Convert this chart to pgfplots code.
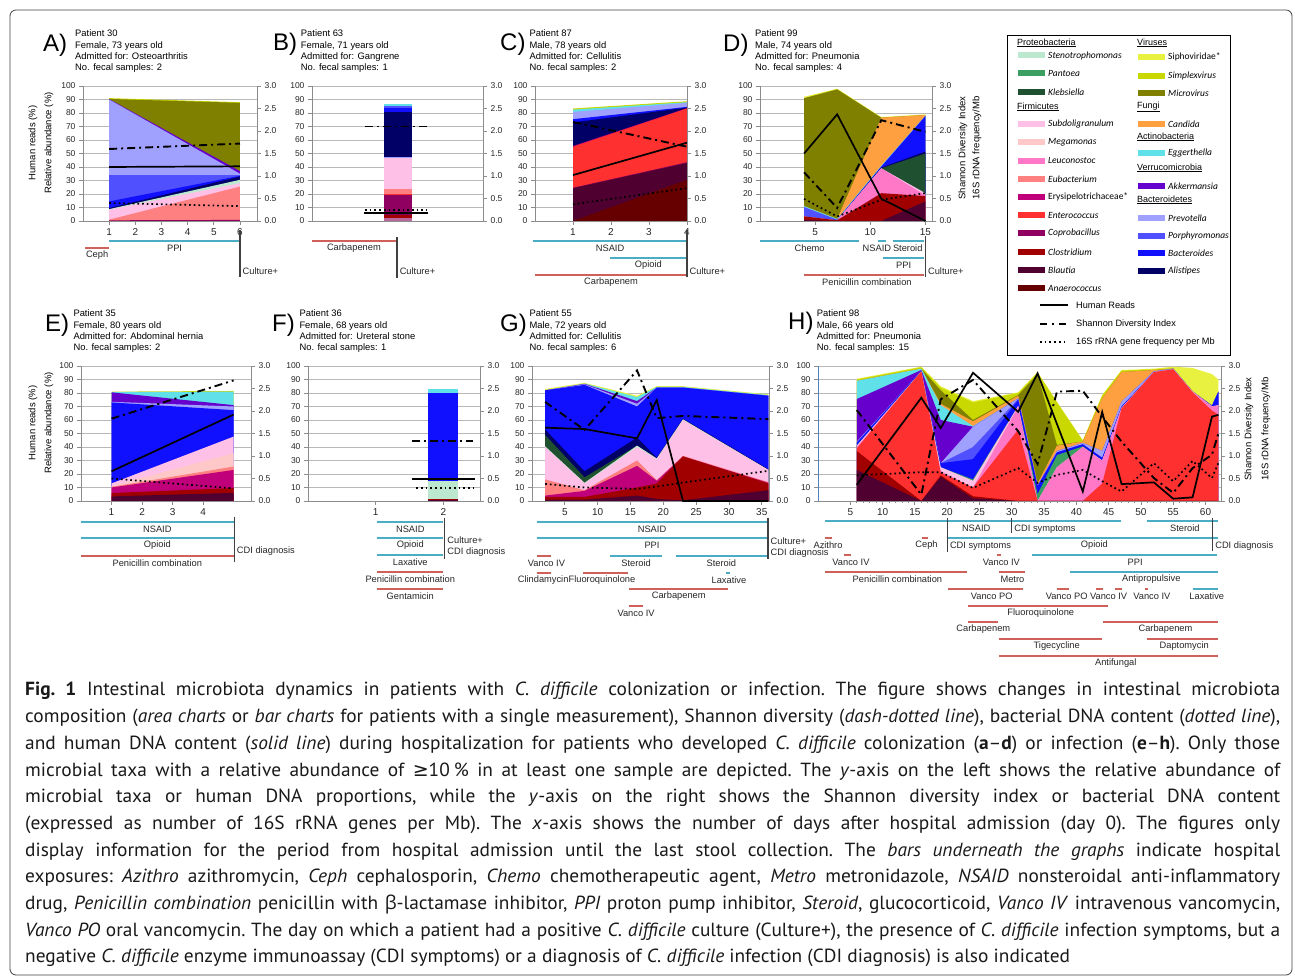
\documentclass[border=0pt]{standalone}
\usepackage{fontspec}
\setmainfont{Liberation Sans}
\newfontfamily\capfont[FakeStretch=1.02]{PT Sans}
\newfontfamily\legfont{Carlito}
\newfontfamily\symfont{DejaVu Sans}
\newfontfamily\greekf{Open Sans}
\usepackage{pgfplots}
\usepackage{pgfplotstable}
\pgfplotsset{compat=1.18}

\definecolor{steno}{HTML}{BDE8D0}
\definecolor{pantoea}{HTML}{3A9F60}
\definecolor{klebs}{HTML}{1F5030}
\definecolor{subdol}{HTML}{FFC0E8}
\definecolor{megam}{HTML}{FFC8C8}
\definecolor{leucon}{HTML}{FF78C8}
\definecolor{eubac}{HTML}{FF8080}
\definecolor{erysip}{HTML}{C0007A}
\definecolor{entero}{HTML}{FF3030}
\definecolor{coprob}{HTML}{900060}
\definecolor{clostr}{HTML}{A00000}
\definecolor{blautia}{HTML}{500030}
\definecolor{anaero}{HTML}{660000}
\definecolor{siphov}{HTML}{E8F040}
\definecolor{simplex}{HTML}{C8D800}
\definecolor{microv}{HTML}{808000}
\definecolor{candida}{HTML}{FFA040}
\definecolor{egger}{HTML}{60E0E8}
\definecolor{akker}{HTML}{6600CC}
\definecolor{prevot}{HTML}{A0A0FF}
\definecolor{porphy}{HTML}{5050FF}
\definecolor{bacter}{HTML}{1010FF}
\definecolor{alist}{HTML}{000066}
\definecolor{expblue}{HTML}{4BACC6}
\definecolor{expred}{HTML}{D0605A}
\definecolor{axblue}{HTML}{4F81BD}

\newcommand\elab{\fontsize{9.3}{10}\selectfont}
\newcommand\ptf{\fontsize{9.4}{10}\selectfont}

\pgfplotsset{
 /pgf/number format/assume math mode=true,
 hum/.style={draw=black, line width=1.7pt},
 sha/.style={draw=black, line width=1.9pt, dash pattern=on 8pt off 4pt on 2pt off 4pt},
 dts/.style={draw=black, line width=1.7pt, dash pattern=on 1.7pt off 3pt},
 evst/.style={draw=black!75, line width=1.3pt},
 lay/.style={fill=#1, draw=none},
 mainax/.style={anchor=south west, scale only axis, height=135pt, ymin=0, ymax=100,
   ytick={0,10,...,100}, axis x line*=bottom, axis y line*=left, ymajorgrids,
   grid style={draw=black!28, line width=0.9pt},
   axis line style={draw=black!45, line width=0.9pt, -},
   tick style={draw=black!45, line width=0.8pt}, tick align=outside, major tick length=4pt,
   yticklabel style={font=\fontsize{8.5}{9}\selectfont, text=black!85},
   xticklabel style={font=\fontsize{10}{11}\selectfont, text=black!85}, clip=false},
 rightax/.style={anchor=south west, scale only axis, height=135pt, ymin=0, ymax=3,
   ytick={0,0.5,...,3}, axis y line*=right, axis x line=none,
   axis line style={draw=black!45, line width=0.9pt, -},
   tick style={draw=black!45, line width=0.8pt}, tick align=outside, major tick length=4pt,
   yticklabel style={font=\fontsize{8.5}{9}\selectfont, text=black!85,
     /pgf/number format/fixed, /pgf/number format/fixed zerofill, /pgf/number format/precision=1},
   clip=false},
 expax/.style={anchor=south west, scale only axis, hide axis, clip=false},
}

\newcommand\ebl[6]{\addplot[draw=#1, line width=2.8pt] coordinates {(#2,-#4) (#3,-#4)};
  \node[font=\elab, inner sep=0pt, text=black!85] at (axis cs:{#6},{-#4-7}) {#5};}
\newcommand\eb[5]{\ebl{#1}{#2}{#3}{#4}{#5}{(#2+#3)/2}}
\newcommand\ev[3]{\addplot[evst] coordinates {(#1,-#2) (#1,-#3)};}
\newcommand\evl[3]{\node[anchor=west, font=\elab, inner sep=0pt, xshift=2.5pt, text=black!85] at (axis cs:#1,-#2) {#3};}

\newcommand\ptext[6]{%
  \node[anchor=base west, inner sep=0pt, font=\ptf] at (#1,{979-#2}) {#3};
  \node[anchor=base west, inner sep=0pt, font=\ptf] at (#1,{979-#2-11.33}) {#4};
  \node[anchor=base west, inner sep=0pt, font=\ptf] at (#1,{979-#2-22.67}) {#5};
  \node[anchor=base west, inner sep=0pt, font=\ptf] at (#1,{979-#2-34}) {#6};}
\newcommand\plet[3]{\node[anchor=base west, inner sep=0pt, font=\fontsize{24}{24}\selectfont] at (#1,{979-#2}) {#3};}

\newcommand\lhead[3]{\node[anchor=west, inner sep=0pt, font=\fontsize{9}{10}\selectfont] at (#1,{979-#2}) {\underline{#3}};}
\newcommand\lsw[4]{\fill[#3] (#1,{979-#2-3}) rectangle ++(27,6);
  \node[anchor=west, inner sep=0pt, font=\legfont\fontsize{9.5}{10}\selectfont] at ({#1+30},{979-#2}) {#4};}

\pgfplotstableread{
x blautia clostr erysip eubac subdol steno klebs alist bacter prevot akker egger siphov
2  1   3  4    16   40 40.5 49   53   82 82   82   82   83
8  1   3  7.5  8    13 13.5 17.5 22   86 86.5 86.8 87   87.5
16 4   10 26   30   40 41   41   47   70 72   74   77   78
19 1.5 13 15   15.5 31 31.5 31.5 32   84 84   84   84.5 85
23 0.5 33 33   33.5 60 60.5 60.5 61   84 84   84   84.5 85
36 8   13 13.5 14   23 23   23   23.5 78 78   78   78.5 79
}\Gdata

\pgfplotstableread{
x blautia clostr entero leucon subdol pantoea bacter porphy prevot akker egger candida microv simplex siphov
6  23 37  39   40   41   41   43   43.5 44   75.5 89   89   89   90   90.5
16 0  0   96   96   96   96   96.5 96.5 96.5 97   98   98   98   99   99.5
19 18 19  21   22   25   25   28   28   28   60   71   72   82   84   85
24 2  3.5 10   10   15   16   31   40   55   55   55.5 59   60   73   74
31 0  0   53   70   70.5 70.5 75   75.5 76   76   76   78   78.5 80   80.5
34 0  0   0    0    0    5    11   11   11.5 11.5 11.5 13   94   95   95.5
37 0  0   0    25   25   34   36   36   37   37   37   41   41.5 73   73.5
41 0  0   0    40   40   40.5 42   42   43   43   43   44   44   44.5 45
44 0  0   13   30   30   30   32   32   37   37   37   76   76   78   78.5
47 0  0   68.5 69   69   69   70   70   73.5 73.5 73.5 95.5 95.5 96.5 97
52 0  0   95.5 95.5 95.5 95.5 95.5 95.5 96   96   96   97   97   97.5 98
55 0  0   97.5 97.5 97.5 97.5 97.5 97.5 98   98   98   98   98   98.5 99.5
58 0  0   80.5 81   81   81   81   81   81   81   81   81   81   81.5 98.5
61 0  0   67   70   70   70   70.5 70.5 70.5 70.5 70.5 70.5 70.5 71   94
62 0  0   64   71   71   71   81   81   81   81   81   81   81   81.5 90
}\Hdata

\begin{document}
\begin{tikzpicture}[x=1pt,y=1pt]
\useasboundingbox (0,0) rectangle (1295,979);
\draw[black!75, line width=0.8pt, rounded corners=6pt] (10,4) rectangle (1292,969);

% ---------------- Panel letters and patient info
\plet{43}{51.7}{A)} \plet{273}{50.7}{B)} \plet{500}{50.7}{C)} \plet{723}{51.7}{D)}
\plet{45}{331.7}{E)} \plet{272}{331.7}{F)} \plet{500}{331.7}{G)} \plet{788}{330}{H)}
\ptext{75}{36.7}{Patient 30}{Female, 73 years old}{Admitted for: Osteoarthritis}{No. fecal samples: 2}
\ptext{300.7}{36.7}{Patient 63}{Female, 71 years old}{Admitted for: Gangrene}{No. fecal samples: 1}
\ptext{529.3}{36.7}{Patient 87}{Male, 78 years old}{Admitted for: Cellulitis}{No. fecal samples: 2}
\ptext{755}{36.7}{Patient 99}{Male, 74 years old}{Admitted for: Pneumonia}{No. fecal samples: 4}
\ptext{73.3}{316.7}{Patient 35}{Female, 80 years old}{Admitted for: Abdominal hernia}{No. fecal samples: 2}
\ptext{299.3}{316.7}{Patient 36}{Female, 68 years old}{Admitted for: Ureteral stone}{No. fecal samples: 1}
\ptext{529.3}{316.7}{Patient 55}{Male, 72 years old}{Admitted for: Cellulitis}{No. fecal samples: 6}
\ptext{816.7}{316.7}{Patient 98}{Male, 66 years old}{Admitted for: Pneumonia}{No. fecal samples: 15}

% axis titles
\node[rotate=90, font=\fontsize{9.5}{10}\selectfont] at (33,836) {Human reads (\%)};
\node[rotate=90, font=\fontsize{9.5}{10}\selectfont] at (49,836) {Relative abundance (\%)};
\node[rotate=90, font=\fontsize{9.5}{10}\selectfont] at (33,556) {Human reads (\%)};
\node[rotate=90, font=\fontsize{9.5}{10}\selectfont] at (49,556) {Relative abundance (\%)};
\node[rotate=90, font=\fontsize{9.5}{10}\selectfont] at (963,831) {Shannon Diversity Index};
\node[rotate=90, font=\fontsize{9.5}{10}\selectfont] at (977,831) {16S rDNA frequency/Mb};
\node[rotate=90, font=\fontsize{9.5}{10}\selectfont] at (1249,550) {Shannon Diversity Index};
\node[rotate=90, font=\fontsize{9.5}{10}\selectfont] at (1266,550) {16S rDNA frequency/Mb};

% ================= Panel A
\begin{axis}[mainax, at={(83pt,758pt)}, width=174pt, xmin=0, xmax=6.65, xtick={1,...,6}]
\addplot[lay=simplex] coordinates {(1,91) (6,88)} \closedcycle;
\addplot[lay=microv] coordinates {(1,90.4) (6,87.5)} \closedcycle;
\addplot[lay=akker] coordinates {(1,90.3) (6,37)} \closedcycle;
\addplot[lay=prevot] coordinates {(1,90) (6,35)} \closedcycle;
\addplot[lay=porphy] coordinates {(1,34.2) (6,34.2)} \closedcycle;
\addplot[lay=bacter] coordinates {(1,14.5) (6,33.5)} \closedcycle;
\addplot[lay=alist] coordinates {(1,9.6) (6,33)} \closedcycle;
\addplot[lay=steno] coordinates {(1,8.8) (6,30.5)} \closedcycle;
\addplot[lay=subdol] coordinates {(1,8.4) (6,28)} \closedcycle;
\addplot[lay=eubac] coordinates {(1,1) (6,25.5)} \closedcycle;
\addplot[lay=coprob] coordinates {(1,0.5) (6,0.8)} \closedcycle;
\addplot[hum] coordinates {(1,40) (6,40.5)};
\end{axis}
\begin{axis}[rightax, at={(83pt,758pt)}, width=174pt, xmin=0, xmax=6.65]
\addplot[sha] coordinates {(1,1.6) (6,1.72)};
\addplot[dts] coordinates {(1,0.4) (6,0.33)};
\end{axis}
\begin{axis}[expax, at={(83pt,679pt)}, width=174pt, height=79pt, xmin=0, xmax=6.65, ymin=-300, ymax=-221]
\eb{expred}{0.08}{1}{248}{Ceph}
\eb{expblue}{1}{6}{241}{PPI}
\ev{6}{230}{277} \evl{6}{271}{Culture+}
\end{axis}

% ================= Panel B
\begin{axis}[mainax, at={(312pt,758pt)}, width=171pt, xmin=0, xmax=2, xtick=\empty]
\addplot[ybar, bar width=28pt, bar shift=0pt, lay=egger] coordinates {(1,87)};
\addplot[ybar, bar width=28pt, bar shift=0pt, lay=porphy] coordinates {(1,85)};
\addplot[ybar, bar width=28pt, bar shift=0pt, lay=bacter] coordinates {(1,84)};
\addplot[ybar, bar width=28pt, bar shift=0pt, lay=alist] coordinates {(1,80.8)};
\addplot[ybar, bar width=28pt, bar shift=0pt, lay=prevot] coordinates {(1,47.2)};
\addplot[ybar, bar width=28pt, bar shift=0pt, lay=subdol] coordinates {(1,46.4)};
\addplot[ybar, bar width=28pt, bar shift=0pt, lay=eubac] coordinates {(1,23.8)};
\addplot[ybar, bar width=28pt, bar shift=0pt, lay=entero] coordinates {(1,20)};
\addplot[ybar, bar width=28pt, bar shift=0pt, lay=coprob] coordinates {(1,19)};
\addplot[ybar, bar width=28pt, bar shift=0pt, lay=clostr] coordinates {(1,4.7)};
\addplot[ybar, bar width=28pt, bar shift=0pt, lay=coprob!60] coordinates {(1,2.2)};
\addplot[hum] coordinates {(0.61,5.9) (1.36,5.9)};
\end{axis}
\begin{axis}[rightax, at={(312pt,758pt)}, width=171pt, xmin=0, xmax=2]
\addplot[sha] coordinates {(0.62,2.1) (1.35,2.1)};
\addplot[dts] coordinates {(0.62,0.24) (1.35,0.24)};
\end{axis}
\begin{axis}[expax, at={(312pt,679pt)}, width=171pt, height=79pt, xmin=0, xmax=2, ymin=-300, ymax=-221]
\eb{expred}{0}{0.98}{241}{Carbapenem}
\ev{0.995}{237}{278} \evl{0.995}{271}{Culture+}
\end{axis}

% ================= Panel C
\begin{axis}[mainax, at={(535pt,758pt)}, width=152pt, xmin=0, xmax=4, xtick={1,...,4}]
\addplot[lay=simplex] coordinates {(1,83.3) (4,88.7)} \closedcycle;
\addplot[lay=egger] coordinates {(1,82.5) (4,88)} \closedcycle;
\addplot[lay=prevot] coordinates {(1,80.8) (4,87.5)} \closedcycle;
\addplot[lay=bacter] coordinates {(1,75.4) (4,84.5)} \closedcycle;
\addplot[lay=alist] coordinates {(1,73) (4,84)} \closedcycle;
\addplot[lay=erysip] coordinates {(1,55.5) (4,83.6)} \closedcycle;
\addplot[lay=entero] coordinates {(1,55) (4,83.3)} \closedcycle;
\addplot[lay=coprob] coordinates {(1,24.6) (4,43.5)} \closedcycle;
\addplot[lay=blautia] coordinates {(1,24.3) (4,43)} \closedcycle;
\addplot[lay=anaero] coordinates {(1,0) (4,30.5)} \closedcycle;
\addplot[hum] coordinates {(1,34) (4,58)};
\end{axis}
\begin{axis}[rightax, at={(535pt,758pt)}, width=152pt, xmin=0, xmax=4]
\addplot[sha] coordinates {(1,2.2) (4,1.65)};
\addplot[dts] coordinates {(1,0.37) (4,0.73)};
\end{axis}
\begin{axis}[expax, at={(535pt,679pt)}, width=152pt, height=79pt, xmin=0, xmax=4, ymin=-300, ymax=-221]
\eb{expblue}{-0.05}{4}{241}{NSAID}
\eb{expblue}{1.97}{4}{258}{Opioid}
\eb{expred}{0}{4}{275}{Carbapenem}
\ev{4}{230}{277} \evl{4}{271}{Culture+}
\end{axis}

% ================= Panel D
\begin{axis}[mainax, at={(760pt,758pt)}, width=172pt, xmin=0, xmax=15.6, xtick={5,10,15}]
\addplot[lay=siphov] coordinates {(4,92) (7,98) (11,77) (15,79)} \closedcycle;
\addplot[lay=microv] coordinates {(4,91) (7,97.5) (11,76.5) (15,78.5)} \closedcycle;
\addplot[lay=candida] coordinates {(4,11) (7,1.5) (11,76.5) (15,78.5)} \closedcycle;
\addplot[lay=egger] coordinates {(4,11) (7,1.5) (11,41) (15,78)} \closedcycle;
\addplot[lay=porphy] coordinates {(4,10.3) (7,1) (11,40.5) (15,77.8)} \closedcycle;
\addplot[lay=bacter] coordinates {(4,3.4) (7,0.7) (11,40) (15,77.6)} \closedcycle;
\addplot[lay=alist] coordinates {(4,3.4) (7,0.5) (11,39.5) (15,51.4)} \closedcycle;
\addplot[lay=klebs] coordinates {(4,3.4) (7,0.5) (11,39) (15,50)} \closedcycle;
\addplot[lay=subdol] coordinates {(4,3.4) (7,0.5) (11,39) (15,20.6)} \closedcycle;
\addplot[lay=leucon] coordinates {(4,3.4) (7,0.5) (11,39) (15,19)} \closedcycle;
\addplot[lay=clostr] coordinates {(4,3.4) (7,0.5) (11,20.6) (15,18.5)} \closedcycle;
\addplot[lay=blautia] coordinates {(4,0.8) (7,0) (11,0) (15,14.5)} \closedcycle;
\addplot[hum] coordinates {(4,50) (7,79) (11,16.5) (15,0)};
\end{axis}
\begin{axis}[rightax, at={(760pt,758pt)}, width=172pt, xmin=0, xmax=15.6]
\addplot[sha] coordinates {(4,1.08) (7,0.29) (11,2.24) (15,1.98)};
\addplot[dts] coordinates {(4,0.49) (7,0.1) (11,0.47) (15,0.62)};
\end{axis}
\begin{axis}[expax, at={(760pt,679pt)}, width=172pt, height=79pt, xmin=0, xmax=15.6, ymin=-300, ymax=-221]
\eb{expblue}{0}{9}{241}{Chemo}
\ebl{expblue}{10.7}{11.4}{241}{NSAID}{10.6}
\ebl{expblue}{12.1}{14.9}{241}{Steroid}{13.4}
\eb{expblue}{11.15}{14.9}{258}{PPI}
\ebl{expred}{4}{14.9}{275}{Penicillin combination}{9.7}
\ev{15}{236}{277} \evl{15}{271}{Culture+}
\end{axis}

% ================= Panel E
\begin{axis}[mainax, at={(81pt,478pt)}, width=170pt, xmin=0, xmax=5.57, xtick={1,...,4}]
\addplot[lay=simplex] coordinates {(1,81) (5,81.5)} \closedcycle;
\addplot[lay=egger] coordinates {(1,80.7) (5,81)} \closedcycle;
\addplot[lay=akker] coordinates {(1,80.5) (5,71)} \closedcycle;
\addplot[lay=prevot] coordinates {(1,73.5) (5,70)} \closedcycle;
\addplot[lay=bacter] coordinates {(1,73) (5,67.3)} \closedcycle;
\addplot[lay=subdol] coordinates {(1,13) (5,47.7)} \closedcycle;
\addplot[lay=megam] coordinates {(1,11) (5,35.4)} \closedcycle;
\addplot[lay=eubac] coordinates {(1,10.5) (5,25.5)} \closedcycle;
\addplot[lay=erysip] coordinates {(1,10) (5,23)} \closedcycle;
\addplot[lay=clostr] coordinates {(1,5.9) (5,9.6)} \closedcycle;
\addplot[lay=blautia] coordinates {(1,3.4) (5,6)} \closedcycle;
\addplot[hum] coordinates {(1,22) (5,64)};
\end{axis}
\begin{axis}[rightax, at={(81pt,478pt)}, width=170pt, xmin=0, xmax=5.57]
\addplot[sha] coordinates {(1,1.83) (5,2.68)};
\addplot[dts] coordinates {(1,0.5) (5,0.28)};
\end{axis}
\begin{axis}[expax, at={(81pt,309pt)}, width=170pt, height=169pt, xmin=0, xmax=5.57, ymin=-670, ymax=-501]
\eb{expblue}{0}{5}{522}{NSAID}
\eb{expblue}{0}{5}{538}{Opioid}
\eb{expred}{0}{5}{556}{Penicillin combination}
\ev{5.02}{517}{562} \evl{5.02}{551}{CDI diagnosis}
\end{axis}

% ================= Panel F
\begin{axis}[mainax, at={(308pt,478pt)}, width=172pt, xmin=0, xmax=2.54, xtick={1,2}]
\addplot[ybar, bar width=30pt, bar shift=0pt, lay=egger] coordinates {(2,83.3)};
\addplot[ybar, bar width=30pt, bar shift=0pt, lay=bacter] coordinates {(2,80)};
\addplot[ybar, bar width=30pt, bar shift=0pt, lay=steno] coordinates {(2,14.5)};
\addplot[ybar, bar width=30pt, bar shift=0pt, lay=clostr] coordinates {(2,1.5)};
\addplot[ybar, bar width=30pt, bar shift=0pt, lay=blautia] coordinates {(2,0.8)};
\addplot[hum] coordinates {(1.53,16.2) (2.47,16.2)};
\end{axis}
\begin{axis}[rightax, at={(308pt,478pt)}, width=172pt, xmin=0, xmax=2.54]
\addplot[sha] coordinates {(1.53,1.34) (2.44,1.34)};
\addplot[dts] coordinates {(1.6,0.29) (2.44,0.29)};
\end{axis}
\begin{axis}[expax, at={(308pt,309pt)}, width=172pt, height=169pt, xmin=0, xmax=2.54, ymin=-670, ymax=-501]
\eb{expblue}{1.02}{2}{522}{NSAID}
\eb{expblue}{1.02}{2}{538}{Opioid}
\eb{expblue}{1.02}{2}{555}{Laxative}
\eb{expred}{1.02}{2}{572}{Penicillin combination}
\eb{expred}{1.02}{2}{589}{Gentamicin}
\ev{2.02}{518}{559} \evl{2.02}{540}{Culture+} \evl{2.02}{552}{CDI diagnosis}
\end{axis}

% ================= Panel G
\begin{axis}[mainax, at={(532pt,478pt)}, width=237pt, xmin=0, xmax=36.1, xtick={5,10,...,35}]
\addplot[lay=siphov] table[x=x,y=siphov] {\Gdata} \closedcycle;
\addplot[lay=egger] table[x=x,y=egger] {\Gdata} \closedcycle;
\addplot[lay=akker] table[x=x,y=akker] {\Gdata} \closedcycle;
\addplot[lay=prevot] table[x=x,y=prevot] {\Gdata} \closedcycle;
\addplot[lay=bacter] table[x=x,y=bacter] {\Gdata} \closedcycle;
\addplot[lay=alist] table[x=x,y=alist] {\Gdata} \closedcycle;
\addplot[lay=klebs] table[x=x,y=klebs] {\Gdata} \closedcycle;
\addplot[lay=steno] table[x=x,y=steno] {\Gdata} \closedcycle;
\addplot[lay=subdol] table[x=x,y=subdol] {\Gdata} \closedcycle;
\addplot[lay=eubac] table[x=x,y=eubac] {\Gdata} \closedcycle;
\addplot[lay=erysip] table[x=x,y=erysip] {\Gdata} \closedcycle;
\addplot[lay=clostr] table[x=x,y=clostr] {\Gdata} \closedcycle;
\addplot[lay=blautia] table[x=x,y=blautia] {\Gdata} \closedcycle;
\addplot[hum] coordinates {(2,54.3) (8,53.3) (16,46.4) (19,74.7) (23,0) (36,0)};
\end{axis}
\begin{axis}[rightax, at={(532pt,478pt)}, width=237pt, xmin=0, xmax=36.1]
\addplot[sha] coordinates {(2,2.2) (8,1.58) (16,2.9) (19,1.84) (23,1.89) (36,1.82)};
\addplot[dts] coordinates {(2,0.38) (8,0.3) (16,0.27) (19,0.32) (23,0.41) (36,0.67)};
\end{axis}
\begin{axis}[expax, at={(532pt,309pt)}, width=237pt, height=169pt, xmin=0, xmax=36.1, ymin=-670, ymax=-501]
\eb{expblue}{0.76}{35.8}{522}{NSAID}
\eb{expblue}{0.76}{35.8}{538}{PPI}
\ebl{expred}{0.76}{2.9}{556}{Vanco IV}{2.2}
\eb{expblue}{11.9}{19.8}{556}{Steroid}
\eb{expblue}{21.9}{35.8}{556}{Steroid}
\ebl{expred}{0.76}{2.9}{573}{Clindamycin}{1.7}
\ebl{expred}{7.8}{14.6}{573}{Fluoroquinolone}{10.66}
\ebl{expblue}{29.5}{30.2}{573}{Laxative}{30}
\eb{expred}{14.8}{29.9}{589}{Carbapenem}
\eb{expred}{14.8}{16.9}{606}{Vanco IV}
\ev{35.95}{518}{559} \evl{35.95}{540.7}{Culture+} \evl{35.95}{553}{CDI diagnosis}
\end{axis}

% ================= Panel H
\begin{axis}[mainax, at={(818pt,478pt)}, width=403pt, xmin=0, xmax=62.4, xtick={5,10,...,60},
  minor x tick num=4, minor tick length=2pt, y axis line style={draw=axblue}]
\addplot[lay=siphov] table[x=x,y=siphov] {\Hdata} \closedcycle;
\addplot[lay=simplex] table[x=x,y=simplex] {\Hdata} \closedcycle;
\addplot[lay=microv] table[x=x,y=microv] {\Hdata} \closedcycle;
\addplot[lay=candida] table[x=x,y=candida] {\Hdata} \closedcycle;
\addplot[lay=egger] table[x=x,y=egger] {\Hdata} \closedcycle;
\addplot[lay=akker] table[x=x,y=akker] {\Hdata} \closedcycle;
\addplot[lay=prevot] table[x=x,y=prevot] {\Hdata} \closedcycle;
\addplot[lay=porphy] table[x=x,y=porphy] {\Hdata} \closedcycle;
\addplot[lay=bacter] table[x=x,y=bacter] {\Hdata} \closedcycle;
\addplot[lay=pantoea] table[x=x,y=pantoea] {\Hdata} \closedcycle;
\addplot[lay=subdol] table[x=x,y=subdol] {\Hdata} \closedcycle;
\addplot[lay=leucon] table[x=x,y=leucon] {\Hdata} \closedcycle;
\addplot[lay=entero] table[x=x,y=entero] {\Hdata} \closedcycle;
\addplot[lay=clostr] table[x=x,y=clostr] {\Hdata} \closedcycle;
\addplot[lay=blautia] table[x=x,y=blautia] {\Hdata} \closedcycle;
\addplot[hum] coordinates {(6,12) (16,76.5) (19,54) (24,95) (31,66) (34,94.5) (41,7) (44,66) (47,12.5) (52,13.8) (55,1.7) (58,2.7) (61,62.5) (62,63.8)};
\end{axis}
\begin{axis}[rightax, at={(818pt,478pt)}, width=403pt, xmin=0, xmax=62.4]
\addplot[sha] coordinates {(6,2.02) (16,0.14) (19,2.26) (24,2.69) (31,1.55) (34,0.82) (37,2.43) (41,2.45) (44,1.87) (47,1.32) (52,0.51) (55,0.18) (58,0.73) (61,1.03) (62,1.5)};
\addplot[dts] coordinates {(6,0.57) (16,0.64) (19,0.64) (24,0.29) (31,0.73) (34,0.4) (37,0.58) (41,0.69) (44,0.44) (47,0.21) (52,0.84) (55,0.44) (58,0.89) (61,0.51) (62,0.85)};
\end{axis}
\begin{axis}[expax, at={(818pt,309pt)}, width=403pt, height=169pt, xmin=0, xmax=62.4, ymin=-670, ymax=-501]
\ebl{expblue}{1.08}{46.87}{521}{NSAID}{24.5}
\ebl{expblue}{50.9}{62}{521}{Steroid}{56.8}
\ebl{expblue}{19.93}{62}{538}{Opioid}{42.8}
\ebl{expred}{1.08}{2.12}{538}{Azithro}{1.55}
\ebl{expred}{16.06}{17.08}{538}{Ceph}{16.8}
\ebl{expred}{4.03}{5.06}{555}{Vanco IV}{5.1}
\ebl{expred}{27.67}{28.29}{555}{Vanco IV}{28.4}
\ebl{expblue}{33.18}{61.83}{555}{PPI}{49.1}
\ebl{expred}{1.08}{23.03}{572}{Penicillin combination}{12.3}
\ebl{expred}{28.03}{32.05}{572}{Metro}{30.1}
\ebl{expblue}{39.02}{62}{572}{Antipropulsive}{51.6}
\ebl{expred}{20.18}{31.79}{589}{Vanco PO}{26.9}
\ebl{expred}{36.96}{38.91}{589}{Vanco PO}{38.5}
\ebl{expred}{43.05}{44.08}{589}{}{44}
\ebl{expred}{45.99}{47.03}{589}{Vanco IV}{45}
\ebl{expred}{50.6}{51.1}{589}{Vanco IV}{51.7}
\ebl{expblue}{58}{62}{589}{Laxative}{60.2}
\ebl{expred}{23.18}{44.95}{606}{Fluoroquinolone}{34.5}
\ebl{expred}{23.18}{27.92}{622}{Carbapenem}{25.6}
\ebl{expred}{44.08}{62}{622}{Carbapenem}{53.8}
\ebl{expred}{28.07}{43.93}{639}{Tigecycline}{36.96}
\ebl{expred}{50.9}{62}{639}{Daptomycin}{56.7}
\ebl{expred}{28.07}{62}{656}{Antifungal}{46.1}
\ev{20.02}{518}{552} \evl{20.02}{546}{CDI symptoms}
\ev{30}{518}{533} \evl{30}{529}{CDI symptoms}
\ev{61.1}{518}{551} \evl{61.1}{546}{CDI diagnosis}
\end{axis}

% ================= Legend
\draw[black, line width=0.8pt] (1007,944) rectangle (1230,624);
\lhead{1017}{43}{Proteobacteria}
\lsw{1018}{55.5}{steno}{\itshape Stenotrophomonas}
\lsw{1018}{73.5}{pantoea}{\itshape Pantoea}
\lsw{1018}{92}{klebs}{\itshape Klebsiella}
\lhead{1017}{107}{Firmicutes}
\lsw{1018}{124}{subdol}{\itshape Subdoligranulum}
\lsw{1018}{142}{megam}{\itshape Megamonas}
\lsw{1018}{161}{leucon}{\itshape Leuconostoc}
\lsw{1018}{179}{eubac}{\itshape Eubacterium}
\lsw{1018}{197}{erysip}{Erysipelotrichaceae*}
\lsw{1018}{215}{entero}{\itshape Enterococcus}
\lsw{1018}{233}{coprob}{\itshape Coprobacillus}
\lsw{1018}{252}{clostr}{\itshape Clostridium}
\lsw{1018}{270}{blautia}{\itshape Blautia}
\lsw{1018}{288}{anaero}{\itshape Anaerococcus}
\lhead{1137}{43}{Viruses}
\lsw{1138}{57}{siphov}{Siphoviridae*}
\lsw{1138}{76}{simplex}{\itshape Simplexvirus}
\lsw{1138}{93}{microv}{\itshape Microvirus}
\lhead{1137}{107}{Fungi}
\lsw{1138}{124}{candida}{\itshape Candida}
\lhead{1137}{137}{Actinobacteria}
\lsw{1138}{153}{egger}{\itshape Eggerthella}
\lhead{1137}{168}{Verrucomicrobia}
\lsw{1138}{186}{akker}{\itshape Akkermansia}
\lhead{1137}{200}{Bacteroidetes}
\lsw{1138}{218}{prevot}{\itshape Prevotella}
\lsw{1138}{236}{porphy}{\itshape Porphyromonas}
\lsw{1138}{253}{bacter}{\itshape Bacteroides}
\lsw{1138}{271}{alist}{\itshape Alistipes}
\draw[black, line width=1.7pt] (1040,674) -- (1068,674);
\draw[black, line width=1.9pt, dash pattern=on 7pt off 5pt on 2pt off 5pt] (1040,655) -- (1070,655);
\draw[black, line width=1.7pt, dash pattern=on 1.7pt off 3pt] (1040,637) -- (1068,637);
\node[anchor=west, inner sep=0pt, font=\fontsize{9.2}{10}\selectfont] at (1076,674) {Human Reads};
\node[anchor=west, inner sep=0pt, font=\fontsize{9.2}{10}\selectfont] at (1076,655) {Shannon Diversity Index};
\node[anchor=west, inner sep=0pt, font=\fontsize{9.2}{10}\selectfont] at (1076,637) {16S rRNA gene frequency per Mb};

% ================= Caption
\node[anchor=base west, inner sep=0pt, text=black!90] at (25,283) {\parbox[t]{1255pt}{\capfont\frenchspacing\fontsize{19}{26.7}\selectfont
\makebox[1255pt][s]{\textbf{Fig. 1} Intestinal microbiota dynamics in patients with \textit{C. difficile} colonization or infection. The figure shows changes in intestinal microbiota}\\
\makebox[1255pt][s]{composition (\textit{area charts} or \textit{bar charts} for patients with a single measurement), Shannon diversity (\textit{dash-dotted line}), bacterial DNA content (\textit{dotted line}),}\\
\makebox[1255pt][s]{and human DNA content (\textit{solid line}) during hospitalization for patients who developed \textit{C. difficile} colonization (\textbf{a}–\textbf{d}) or infection (\textbf{e}–\textbf{h}). Only those}\\
\makebox[1255pt][s]{microbial taxa with a relative abundance of {\symfont ≥}10\hspace{4pt}\% in at least one sample are depicted. The \textit{y}-axis on the left shows the relative abundance of}\\
\makebox[1255pt][s]{microbial taxa or human DNA proportions, while the \textit{y}-axis on the right shows the Shannon diversity index or bacterial DNA content}\\
\makebox[1255pt][s]{(expressed as number of 16S rRNA genes per Mb). The \textit{x}-axis shows the number of days after hospital admission (day 0). The figures only}\\
\makebox[1255pt][s]{display information for the period from hospital admission until the last stool collection. The \textit{bars underneath the graphs} indicate hospital}\\
\makebox[1255pt][s]{exposures: \textit{Azithro} azithromycin, \textit{Ceph} cephalosporin, \textit{Chemo} chemotherapeutic agent, \textit{Metro} metronidazole, \textit{NSAID} nonsteroidal anti-inflammatory}\\
\makebox[1255pt][s]{drug, \textit{Penicillin combination} penicillin with {\greekf β}-lactamase inhibitor, \textit{PPI} proton pump inhibitor, \textit{Steroid}, glucocorticoid, \textit{Vanco IV} intravenous vancomycin,}\\
\makebox[1255pt][s]{\textit{Vanco PO} oral vancomycin. The day on which a patient had a positive \textit{C. difficile} culture (Culture+), the presence of \textit{C. difficile} infection symptoms, but a}\\
\makebox[1255pt][l]{negative \textit{C. difficile} enzyme immunoassay (CDI symptoms) or a diagnosis of \textit{C. difficile} infection (CDI diagnosis) is also indicated}}};
\end{tikzpicture}
\end{document}
